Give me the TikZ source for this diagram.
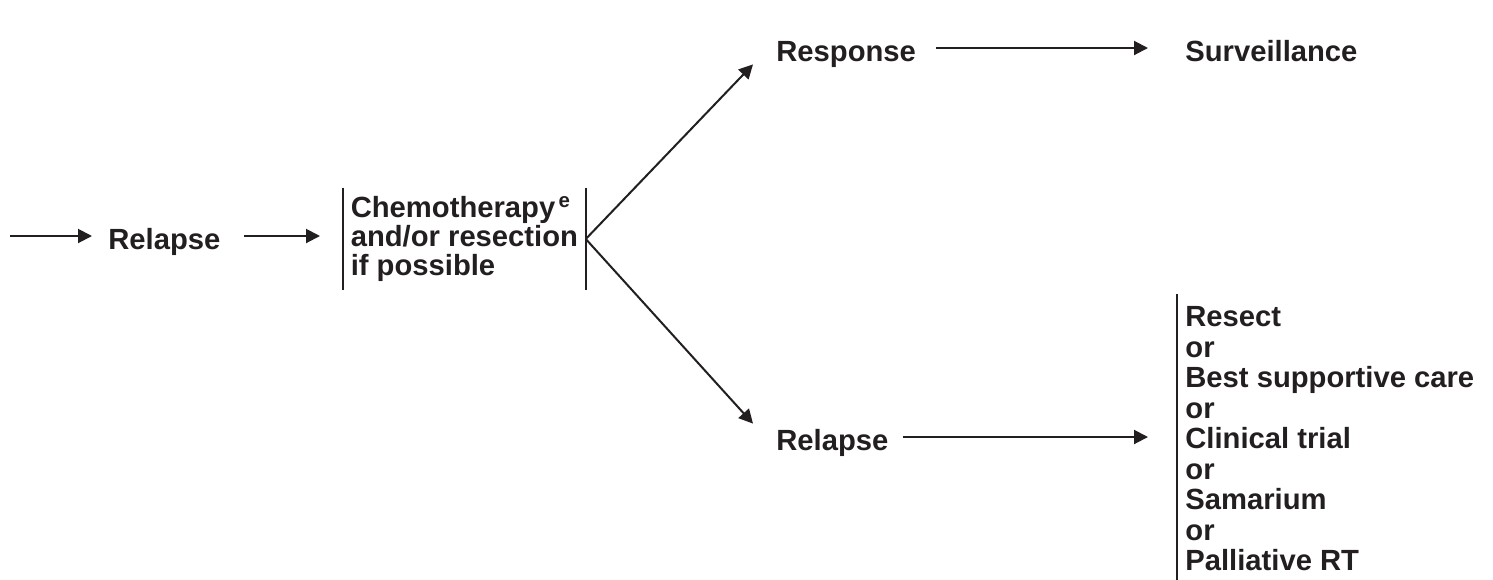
\documentclass[tikz,border=0pt]{standalone}
\usepackage{fontspec}
\setmainfont{Liberation Sans}
\usepackage{xcolor}
\usetikzlibrary{arrows.meta,positioning}

\definecolor{ink}{RGB}{35,31,32}

\begin{document}
\begin{tikzpicture}[x=0.5pt, y=-0.5pt,
  lbl/.style={inner sep=0pt, text height=13pt, text depth=0pt, anchor=base west, text=ink,
    font=\fontsize{14.6}{16}\selectfont\bfseries},
  brk/.style={inner ysep=0pt, align=left, text=ink},
  bar/.style={draw=ink, line width=1.25pt},
  arrow/.style={-{Triangle[length=7pt,width=7pt]}, draw=ink, line width=1pt}
]
\useasboundingbox (0,0) rectangle (1493,579);

\coordinate (in) at (10,236);
\node[lbl] (rel1) at (108,249) {Relapse};
\node[brk, anchor=west, minimum height=51pt, minimum width=121pt,
  font=\fontsize{14.6}{14.5}\selectfont\bfseries] (chemo) at (343,239)
  {Chemotherapy\textsuperscript{\,e}\\and/or resection\\if possible};
\node[lbl] (resp) at (776,61) {Response};
\node[lbl] (surv) at (1185,61) {Surveillance};
\node[lbl] (rel2) at (776,450) {Relapse};
\node[brk, anchor=north west, inner xsep=4pt, inner ysep=6pt,
  font=\fontsize{14.6}{15.25}\selectfont\bfseries] (list) at (1177,294)
  {Resect\\or\\Best supportive care\\or\\Clinical trial\\or\\Samarium\\or\\Palliative RT};

% brackets
\draw[bar] (chemo.north west) -- (chemo.south west);
\draw[bar] (chemo.north east) -- (chemo.south east);
\draw[bar] (list.north west) -- (list.south west);

% arrows
\draw[arrow, shorten >=8pt] (in) -- (rel1);
\draw[arrow, shorten <=11.5pt, shorten >=11.5pt] (rel1) -- (rel1 -| chemo.west);
\draw[arrow] (chemo.east) -- ([xshift=-11.5pt,yshift=-1.5pt]resp.south west);
\draw[arrow] (chemo.east) -- ([xshift=-11.5pt]rel2.north west);
\draw[arrow, shorten <=10pt, shorten >=18.5pt] (resp) -- (surv);
\draw[arrow, shorten <=7pt, shorten >=14.5pt] (rel2) -- (rel2 -| list.west);
\end{tikzpicture}
\end{document}
